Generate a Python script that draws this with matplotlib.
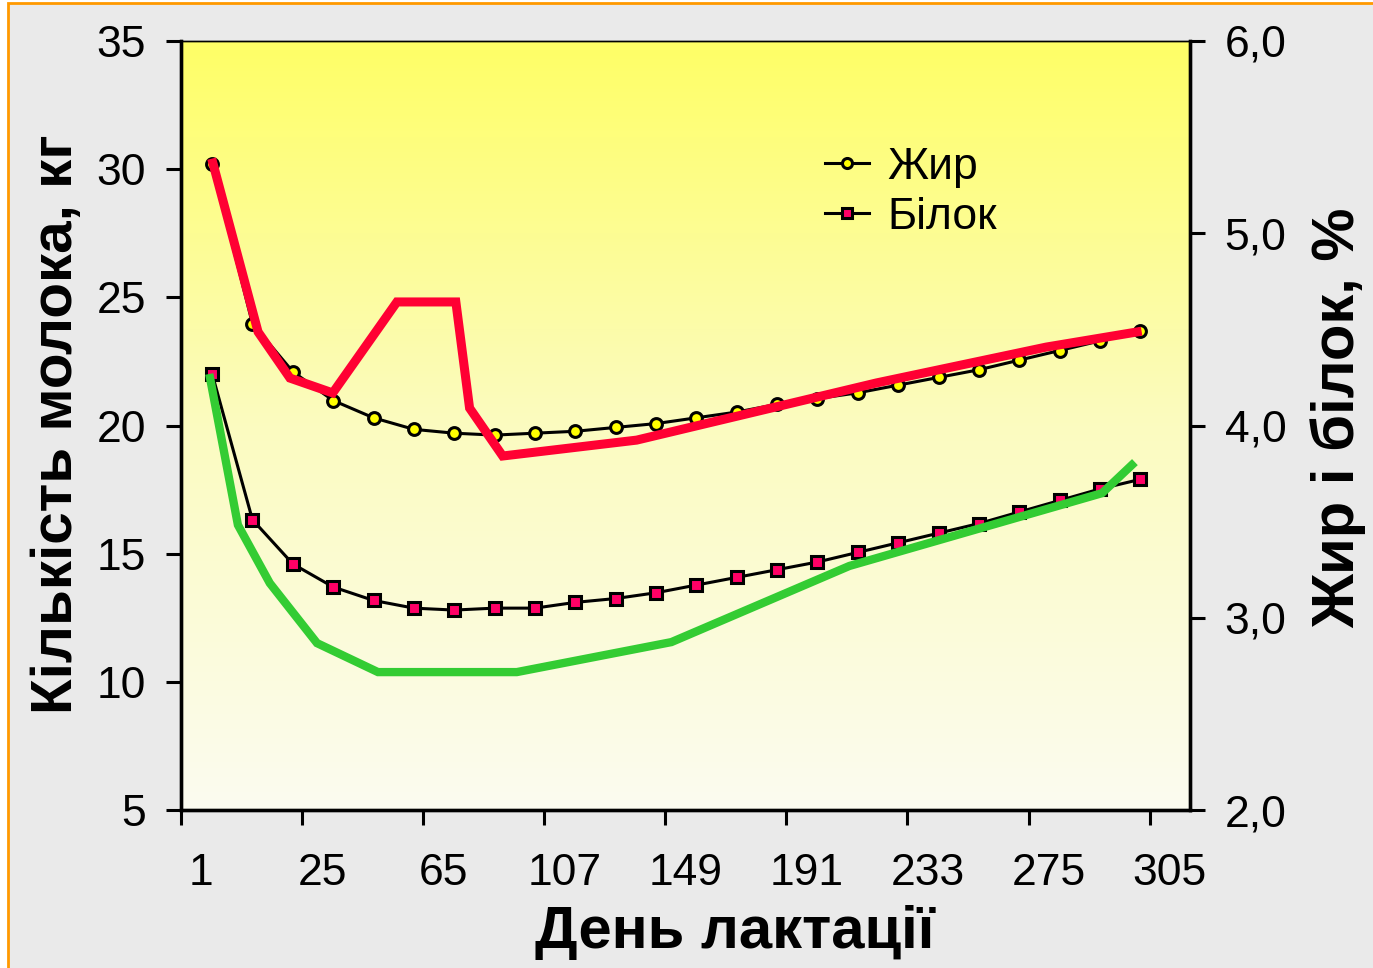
import matplotlib
matplotlib.use("Agg")
import matplotlib.pyplot as plt
from matplotlib.colors import LinearSegmentedColormap
from matplotlib.patches import Rectangle
import numpy as np

plt.rcParams['font.family'] = ['Liberation Sans', 'DejaVu Sans']

# days shown on the category axis
day_labels = ['1', '25', '65', '107', '149', '191', '233', '275', '305']

# fat and protein, %, 24 test days (right axis)
fat = [5.36, 4.53, 4.28, 4.13, 4.04, 3.98, 3.96, 3.95, 3.96, 3.97, 3.99, 4.01,
       4.04, 4.07, 4.11, 4.14, 4.17, 4.21, 4.25, 4.29, 4.34, 4.39, 4.44, 4.49]
protein = [4.27, 3.51, 3.28, 3.16, 3.09, 3.05, 3.04, 3.05, 3.05, 3.08, 3.10, 3.13,
           3.17, 3.21, 3.25, 3.29, 3.34, 3.39, 3.44, 3.49, 3.55, 3.61, 3.67, 3.72]

# hand drawn red and green curves, milk kg (left axis), x in category units
red_x = [0.79, 1.91, 2.70, 3.76, 5.35, 6.81, 7.15, 7.97, 11.29, 17.23, 21.44, 23.69]
red_y = [30.24, 23.65, 21.85, 21.27, 24.82, 24.82, 20.68, 18.81, 19.43, 21.66, 23.06, 23.65]
green_x = [0.72, 1.41, 2.20, 3.37, 4.88, 8.32, 12.15, 16.56, 22.82, 23.56]
green_y = [21.85, 16.12, 13.85, 11.51, 10.38, 10.38, 11.55, 14.52, 17.36, 18.46]

x_pts = np.arange(len(fat)) + 0.77

fig = plt.figure(figsize=(13.73, 9.68), dpi=100, facecolor='white')
fig.patches.append(Rectangle((8 / 1373, -0.01), 1.02, 1 - 3 / 968 + 0.01,
                             transform=fig.transFigure, facecolor='#eaeaea',
                             edgecolor='#ff9900', linewidth=2, zorder=-5))

ax = fig.add_axes([181 / 1373, 1 - 810 / 968, (1190 - 181) / 1373, (810 - 41) / 968])
ax2 = ax.twinx()

# gradient background on the lower axes
cmap = LinearSegmentedColormap.from_list('bg', ['#fbfbf0', '#fbfbc0', '#ffff66'])
grad = np.linspace(0, 1, 256).reshape(-1, 1)
ax2.imshow(grad, cmap=cmap, origin='lower', extent=[0, 25, 2, 6], aspect='auto', zorder=0)

ax2.plot(x_pts, fat, color='black', lw=2.2, marker='o', ms=8.5, mfc='#ffff00',
         mec='black', mew=2.2, label='Жир', zorder=3)
ax2.plot(x_pts, protein, color='black', lw=2.2, marker='s', ms=9, mfc='#ff0066',
         mec='black', mew=2.2, label='Білок', zorder=3)

ax.set_zorder(ax2.get_zorder() + 1)
ax.patch.set_visible(False)
ax.plot(red_x, red_y, color='#ff0033', lw=6.5, solid_joinstyle='miter', zorder=4)
ax.plot(green_x, green_y, color='#33cc33', lw=6, solid_joinstyle='miter', zorder=4)

ax.set_xlim(0, 25)
ax.set_ylim(5, 35)
ax2.set_ylim(2, 6)

ax.set_yticks(range(5, 36, 5))
ax2.set_yticks([2, 3, 4, 5, 6])
ax2.set_yticklabels(['2,0', '3,0', '4,0', '5,0', '6,0'])

ax.set_xticks(range(0, 25, 3))
ax.set_xticklabels([])
ax.set_xticks(np.arange(0.5, 25, 3), minor=True)
ax.set_xticklabels(day_labels, minor=True)
ax.tick_params(axis='x', which='major', length=11, width=2.2, direction='out')
ax.tick_params(axis='x', which='minor', length=0, pad=31, labelsize=32)
ax.tick_params(axis='y', length=11, width=2.2, direction='out', pad=14, labelsize=32)
ax2.tick_params(axis='y', length=11, width=2.2, direction='out', pad=14, labelsize=32)

for a in (ax, ax2):
    for side in ('left', 'right', 'bottom'):
        a.spines[side].set_linewidth(2.4)
    a.spines['top'].set_linewidth(1)

fig.text(735 / 1373, 1 - 933 / 968, 'День лактації', fontsize=43, fontweight='bold',
         ha='center', va='center')
fig.text(57 / 1373, 1 - 424 / 968, 'Кількість молока, кг', fontsize=42, fontweight='bold',
         ha='center', va='center', rotation=90)
fig.text(1338 / 1373, 1 - 418 / 968, 'Жир і білок, %', fontsize=43, fontweight='bold',
         ha='center', va='center', rotation=90)

leg = ax2.legend(loc='upper left', bbox_to_anchor=(825 / 1373, 1 - 147 / 968),
                 bbox_transform=fig.transFigure, frameon=False, fontsize=32,
                 borderpad=0, borderaxespad=0, handlelength=1.0, handletextpad=0.4,
                 labelspacing=0.2, markerscale=0.85)

fig.savefig('out.png', dpi=100, facecolor=fig.get_facecolor())
